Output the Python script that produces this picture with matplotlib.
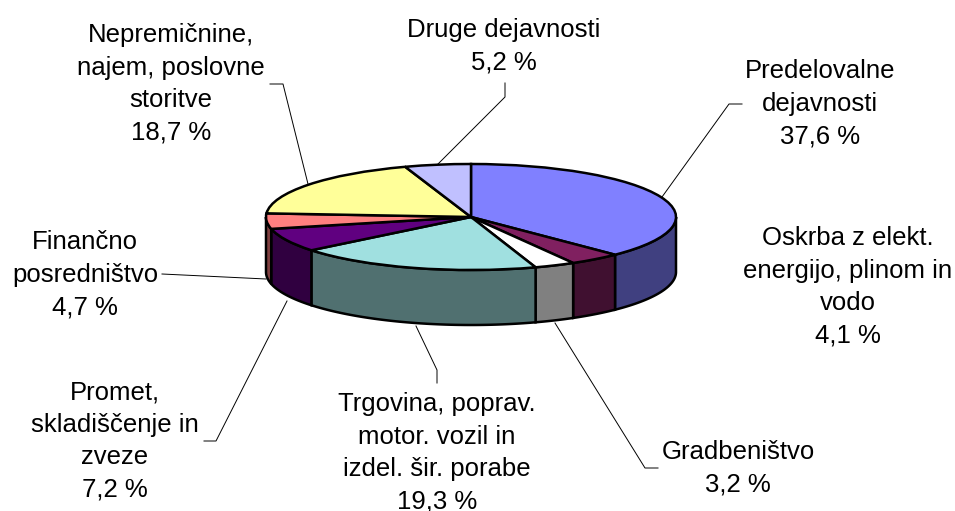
import numpy as np
import matplotlib
matplotlib.use("Agg")
import matplotlib.pyplot as plt
from matplotlib.patches import Polygon
from matplotlib.transforms import Affine2D

categories = ["Predelovalne\ndejavnosti", "Oskrba z elekt.\nenergijo, plinom in\nvodo", "Gradbeništvo",
              "Trgovina, poprav.\nmotor. vozil in\nizdel. šir. porabe", "Promet,\nskladiščenje in\nzveze",
              "Finančno\nposredništvo", "Nepremičnine,\nnajem, poslovne\nstoritve", "Druge dejavnosti"]
values = [37.6, 4.1, 3.2, 19.3, 7.2, 4.7, 18.7, 5.2]
value_labels = ["37,6 %", "4,1 %", "3,2 %", "19,3 %", "7,2 %", "4,7 %", "18,7 %", "5,2 %"]
top_colors = ["#8080FF", "#802060", "#FFFFFF", "#A0E0E0", "#600080", "#FF8080", "#FFFF99", "#C0C0FF"]
side_colors = ["#404080", "#401030", "#808080", "#507070", "#300040", "#804040", "#808050", "#606080"]

W, H = 955, 511
CX, CY, RX, RY, DEPTH = 471, 217, 205, 53, 55

plt.rcParams["font.family"] = ["Liberation Sans", "DejaVu Sans"]
fig = plt.figure(figsize=(W / 100, H / 100), dpi=100)
ax = fig.add_axes([0, 0, 1, 1])
ax.axis("off")
ax.set_xlim(-CX / RX, (W - CX) / RX)
ax.set_ylim((CY - H) / RY, CY / RY)

# side wall: only the front half of the rim is visible
depth = DEPTH / RY
fracs = np.cumsum([0] + values) / np.sum(values) * 2 * np.pi
for i in range(len(values)):
    a, b = max(fracs[i], np.pi / 2), min(fracs[i + 1], 3 * np.pi / 2)
    if b <= a:
        continue
    t = np.linspace(a, b, 80)
    xs, ys = np.sin(t), np.cos(t)
    pts = np.r_[np.c_[xs, ys], np.c_[xs[::-1], ys[::-1] - depth]]
    ax.add_patch(Polygon(pts, closed=True, facecolor=side_colors[i], edgecolor="black", linewidth=1.8, zorder=1))

wedges, _ = ax.pie(values, colors=top_colors, startangle=90, counterclock=False, radius=1,
                   wedgeprops=dict(edgecolor="black", linewidth=1.8, zorder=2), frame=True)
ax.set_aspect("auto")
ax.set_xlim(-CX / RX, (W - CX) / RX)
ax.set_ylim((CY - H) / RY, CY / RY)
ax.axis("off")

# label placement in reference pixels (y down)
px = Affine2D().scale(1, -1).translate(0, H)
label_pos = [(820, 104), (848, 287), (738, 468), (437, 453), (115, 441), (85, 275), (171, 84), (504, 46)]
for pos, cat, val in zip(label_pos, categories, value_labels):
    fig.text(pos[0], pos[1], f"{cat}\n{val}", transform=px, ha="center", va="center",
             fontsize=18.5, linespacing=1.45, color="black")

leaders = [
    [(662, 197), (729, 104), (742, 104)],
    [(555, 323), (645, 468), (658, 468)],
    [(416, 326), (437, 370), (437, 383)],
    [(287, 301), (216, 441), (204, 441)],
    [(266, 279), (162, 274)],
    [(308, 184), (283, 84), (270, 84)],
    [(438, 164), (505, 97), (505, 83)],
]
for seg in leaders:
    arr = np.array(seg)
    ax.plot(arr[:, 0], arr[:, 1], transform=px, color="black", lw=0.7, zorder=0)

fig.savefig("out.png", dpi=100)
